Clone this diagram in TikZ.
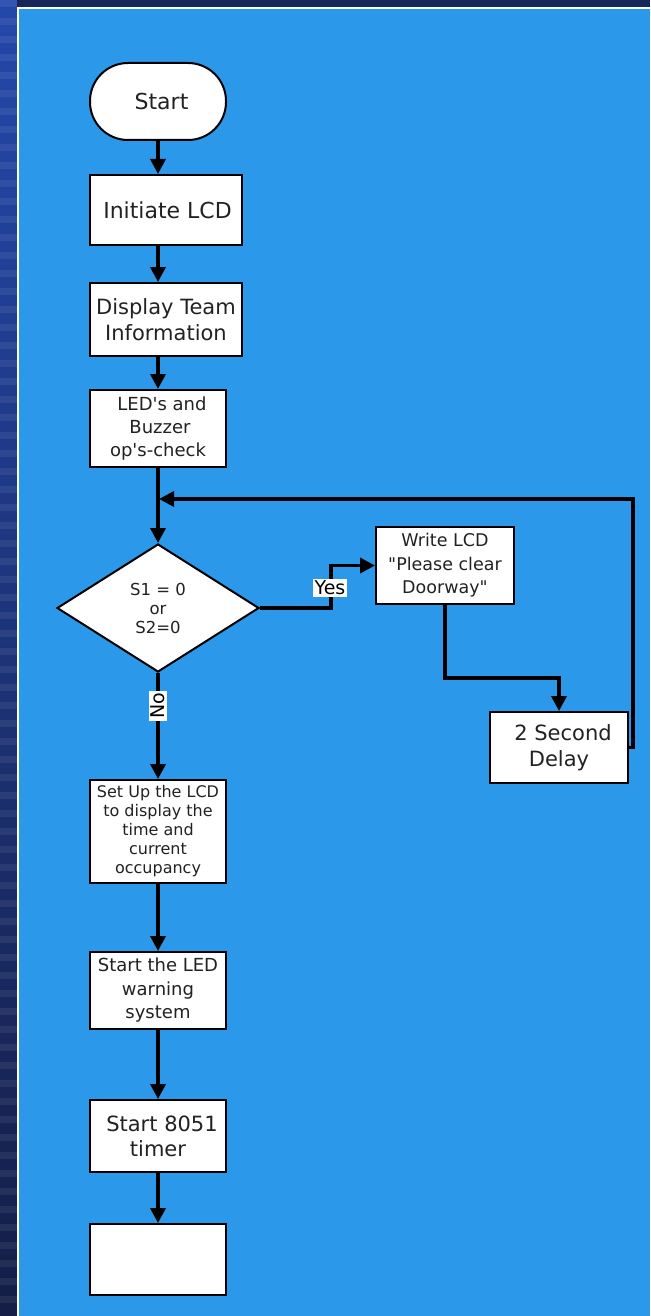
\documentclass[tikz,border=0pt]{standalone}
\usepackage{fontspec}
\usepackage{tikz}
\usetikzlibrary{arrows.meta,shapes.geometric}
\newfontfamily\flowfont{DejaVu Sans}
\definecolor{panelblue}{RGB}{43,152,233}
\definecolor{edgetop}{RGB}{36,72,170}
\definecolor{edgebottom}{RGB}{20,30,70}
\definecolor{inkgray}{RGB}{34,34,34}
\tikzstyle{block} = [rectangle, draw, line width=2pt, fill=white, text=inkgray,
                 align=center, inner sep=0pt]
\tikzstyle{terminal} = [block, rounded corners=38pt]
\tikzstyle{decision} = [diamond, draw, line width=2pt, fill=white, text=inkgray,
                 align=center, inner sep=0pt, aspect=1.58,
                 minimum width=202pt, minimum height=128pt]
\tikzstyle{flow} = [line width=3.5pt, -{Triangle[length=15pt,width=15pt]}]
\tikzstyle{tag} = [fill=white, text=black, inner sep=2pt, font=\flowfont\fontsize{19}{19}\selectfont]

\begin{document}
\begin{tikzpicture}[x=1pt,y=-1pt]
\useasboundingbox (0,0) rectangle (650,1316);

    %frame
\shade [top color=edgetop, bottom color=edgebottom] (0,0) rectangle (17,1316);
\fill [edgebottom!80!edgetop] (17,0) rectangle (650,8);
\foreach \y in {0,18,...,1300}
	\fill [white, opacity=0.07] (0,\y) rectangle (17,\y+7);
\draw [white, line width=2pt] (18,1316) -- (18,8) -- (650,8);
\fill [panelblue] (19,9) rectangle (650,1316);

    %steps
\node [terminal, minimum width=136pt, minimum height=77pt,
       font=\flowfont\fontsize{22}{26}\selectfont] (start) at (158,101.5) {\hspace*{7pt}Start};
\node [block, minimum width=152pt, minimum height=70pt,
       font=\flowfont\fontsize{22}{26}\selectfont] (init) at (166,210) {\hspace*{3pt}Initiate LCD};
\node [block, minimum width=152pt, minimum height=73pt,
       font=\flowfont\fontsize{21}{26}\selectfont] (team) at (166,319.5) {Display Team\\Information};
\node [block, minimum width=136pt, minimum height=77pt,
       font=\flowfont\fontsize{18}{23}\selectfont] (check) at (158,428.5) {\hspace*{8pt}LED's and\\\hspace*{4pt}Buzzer\\op's-check};
\node [decision, font=\flowfont\fontsize{16.5}{19}\selectfont] (test) at (158,608) {S1 = 0\\or\\S2=0};
\node [block, minimum width=138pt, minimum height=77pt,
       font=\flowfont\fontsize{17.5}{23.5}\selectfont] (write) at (445,565.5) {Write LCD\\"Please clear\\Doorway"};
\node [block, minimum width=138pt, minimum height=71pt,
       font=\flowfont\fontsize{21}{26}\selectfont] (delay) at (559,747.5) {\hspace*{8pt}2 Second\\Delay};
\node [block, minimum width=136pt, minimum height=103pt,
       font=\flowfont\fontsize{16}{19}\selectfont] (setup) at (158,831.5) {Set Up the LCD\\to display the\\time and\\current\\occupancy};
\node [block, minimum width=136pt, minimum height=77pt,
       font=\flowfont\fontsize{18}{23.5}\selectfont] (warn) at (158,990.5) {Start the LED\\warning\\system};
\node [block, minimum width=136pt, minimum height=72pt,
       font=\flowfont\fontsize{21}{25}\selectfont] (timer) at (158,1136) {\hspace*{8pt}Start 8051\\timer};
\node [block, minimum width=136pt, minimum height=71pt] (last) at (158,1259.5) {};

\coordinate (merge) at (159,499);

    %connectors
\draw [flow] (start.south) -- (start.south |- init.north);
\draw [flow] (start.south |- init.south) -- (start.south |- team.north);
\draw [flow] (start.south |- team.south) -- (check.north);
\draw [flow] (check.south) -- (test.north);
\draw [flow] (test.east) -- (331,608) |- (write.west);
\draw [flow] (write.south) -- (write.south |- 0,678) -| (delay.north);
\draw [flow] (delay.east) -- (633,747.5) |- (merge);
\draw [flow] (test.south) -- (setup.north);
\draw [flow] (setup.south) -- (warn.north);
\draw [flow] (warn.south) -- (timer.north);
\draw [flow] (timer.south) -- (last.north);

\node [tag] (yes) at (330,588) {Yes};
\node [tag, rotate=90] (no) at (158,706) {No};

\end{tikzpicture}
\end{document}
